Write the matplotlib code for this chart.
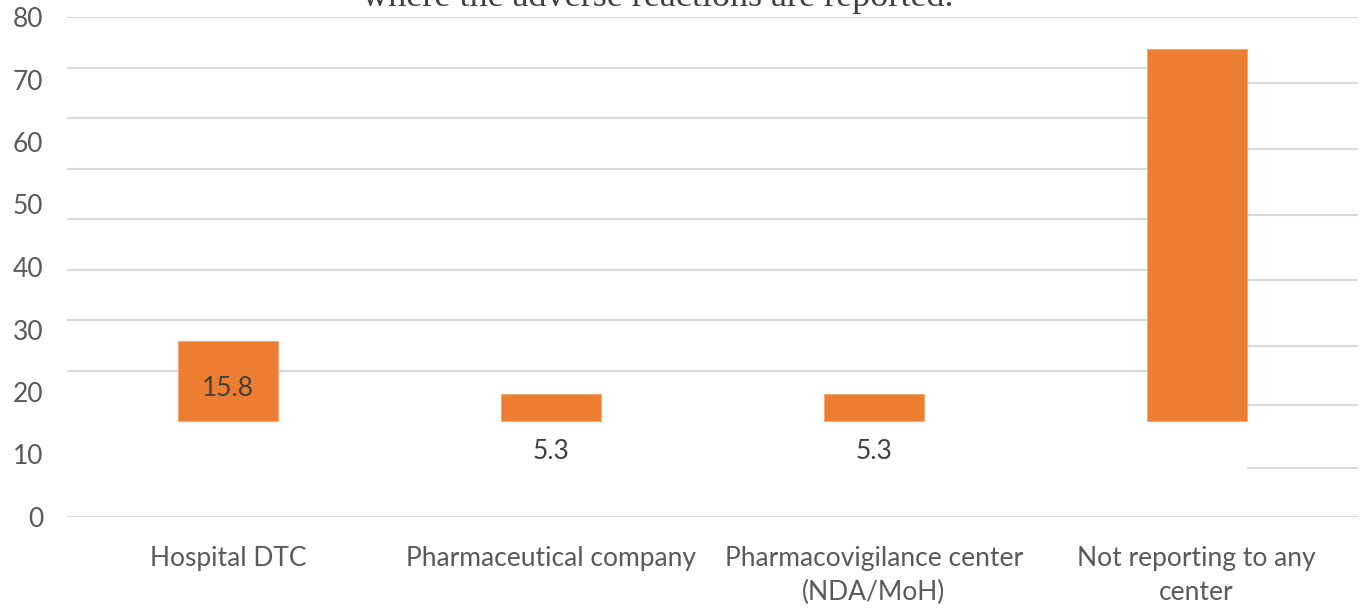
import matplotlib.pyplot as plt
import numpy as np

plt.rcParams['font.family'] = ['Lato', 'DejaVu Sans']

# share of respondents (%) by where the adverse reactions are reported
categories = ['Hospital DTC', 'Pharmaceutical company',
              'Pharmacovigilance center\n(NDA/MoH)', 'Not reporting to any\ncenter']
values = [15.8, 5.3, 5.3, 73.6]
value_labels = ['15.8', '5.3', '5.3', '']
y_ticks = [0, 10, 20, 30, 40, 50, 60, 70, 80]
bar_grid = [10, 20, 30, 40, 50, 60, 70]
side_grid = [7.8, 17.9, 27.4, 38.0, 48.3, 58.9, 69.4]

orange = '#ED7D31'
grid_c = '#D9D9D9'
text_c = '#595959'

fig = plt.figure(figsize=(13.6, 6.09), dpi=100)
ax = fig.add_axes([67 / 1360, 92 / 609, 1291 / 1360, 500 / 609])
ax2 = ax.twinx()

x = np.arange(len(categories))
w = 0.31

# left axis: tick labels and the outer lines
ax.set_xlim(-0.5, 3.5)
ax.set_ylim(0, 80)
ax.set_yticks(y_ticks)
ax.set_xticks(x)
ax.set_xticklabels(categories, linespacing=1.45)
ax.tick_params(axis='y', length=0, pad=17, labelsize=19, labelcolor=text_c)
ax.tick_params(axis='x', length=0, pad=21, labelsize=19, labelcolor=text_c)
ax.axhline(0, color=grid_c, lw=1.5, zorder=0)
ax.axhline(80, color=grid_c, lw=1.5, zorder=0)
ax.hlines(side_grid, x[-1] + w / 2, 3.5, color=grid_c, lw=1.5, zorder=0)
for s in ax.spines.values():
    s.set_visible(False)

# bars on their own scale
ax2.set_ylim(-19.0, 80)
ax2.hlines(bar_grid, -0.5, x[-1] + w / 2, color=grid_c, lw=1.5, zorder=0)
ax2.bar(x, values, width=w, color=orange, edgecolor='#F6A874', linewidth=0.8, zorder=2)
ax2.set_yticks([])
for s in ax2.spines.values():
    s.set_visible(False)

for i, (v, lab) in enumerate(zip(values, value_labels)):
    if not lab:
        continue
    if v > 10:
        ax2.text(x[i], v * 0.41, lab, ha='center', va='center', fontsize=19, color='#404040', zorder=3)
    else:
        ax2.text(x[i], -6.1, lab, ha='center', va='center', fontsize=19, color='#404040', zorder=3)

fig.text(0.484, 1 - 6 / 609, 'where the adverse reactions are reported.', ha='center',
         va='baseline', fontsize=26, family='Liberation Serif', color='#404040')

fig.savefig('out.png', dpi=100)
